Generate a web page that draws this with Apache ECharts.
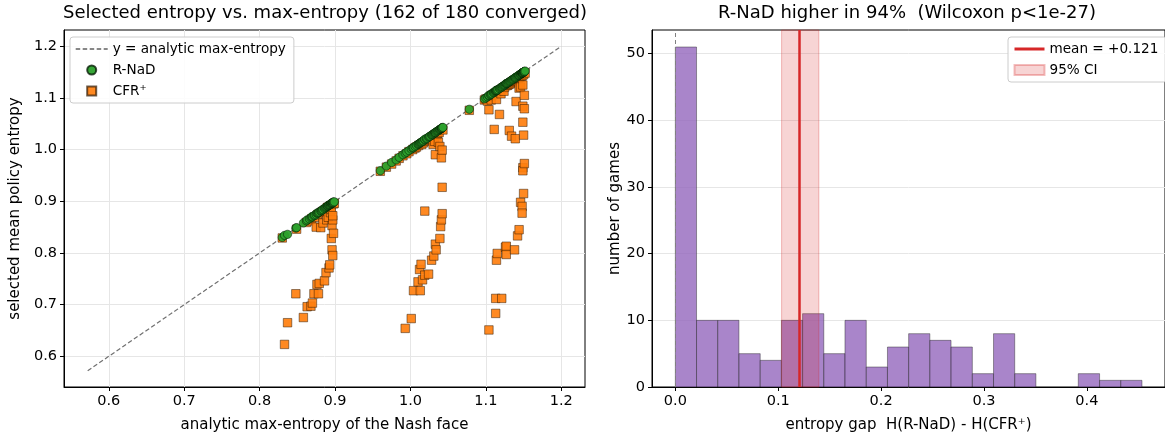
<!DOCTYPE html>
<html><head><meta charset="utf-8">
<script src="https://cdn.jsdelivr.net/npm/echarts@6/dist/echarts.min.js"></script>
<style>html,body{margin:0;padding:0;background:#fff}#c{width:1165px;height:438px}</style>
</head><body><div id="c"></div><script>
// ---------- data: left scatter (one entry per converged game) ----------
const gameEntropy = [
 0.830,0.833,0.837,0.848,0.849,0.858,0.862,0.863,0.866,0.868,0.869,0.870,0.872,0.873,0.875,0.876,0.877,0.878,0.879,0.881,
 0.882,0.883,0.884,0.886,0.887,0.888,0.889,0.890,0.890,0.891,0.892,0.892,0.893,0.894,0.894,0.895,0.895,0.896,0.896,0.897,
 0.897,0.897,0.898,0.898,0.899,
 0.960,0.968,0.975,0.981,0.985,0.990,0.993,0.995,0.998,1.001,1.003,1.004,1.006,1.008,1.010,1.011,1.012,1.013,1.014,1.015,
 1.016,1.017,1.019,1.019,1.021,1.022,1.024,1.025,1.026,1.028,1.029,1.030,1.031,1.032,1.033,1.033,1.034,1.035,1.036,1.037,
 1.038,1.039,1.039,1.040,1.041,1.041,1.042,1.042,1.042,1.043,
 1.078,
 1.098,1.100,1.102,1.104,1.104,1.106,1.107,1.108,1.110,1.111,1.112,1.113,1.113,1.114,1.114,1.115,1.116,1.118,1.119,1.120,
 1.121,1.122,1.123,1.124,1.125,1.126,1.127,1.127,1.128,1.129,1.130,1.131,1.132,1.133,1.134,1.135,1.136,1.137,1.138,1.139,
 1.139,1.140,1.141,1.142,1.143,1.144,1.144,1.145,1.146,1.146,1.147,1.148,1.148,1.148,1.149,1.149,1.149,1.149,1.149,1.150,
 1.150,1.150,1.151,1.151,1.151,1.152
];
const rnadEntropy = [
 0.830,0.834,0.836,0.848,0.849,0.858,0.862,0.864,0.866,0.868,0.870,0.870,0.872,0.873,0.874,0.877,0.877,0.878,0.879,0.881,
 0.882,0.883,0.884,0.886,0.887,0.888,0.889,0.890,0.891,0.891,0.892,0.893,0.893,0.894,0.894,0.895,0.896,0.896,0.896,0.897,
 0.897,0.898,0.898,0.898,0.899,
 0.959,0.968,0.975,0.980,0.985,0.990,0.993,0.995,0.998,1.001,1.003,1.004,1.006,1.008,1.010,1.011,1.012,1.013,1.014,1.015,
 1.016,1.017,1.019,1.020,1.021,1.022,1.024,1.025,1.026,1.028,1.029,1.030,1.031,1.032,1.033,1.033,1.034,1.035,1.036,1.037,
 1.038,1.039,1.039,1.040,1.041,1.041,1.042,1.042,1.042,1.043,
 1.078,
 1.098,1.100,1.102,1.104,1.105,1.106,1.107,1.108,1.110,1.111,1.112,1.113,1.114,1.114,1.115,1.115,1.116,1.118,1.119,1.120,
 1.121,1.122,1.123,1.124,1.125,1.126,1.127,1.128,1.128,1.129,1.130,1.131,1.132,1.133,1.134,1.135,1.136,1.137,1.138,1.139,
 1.139,1.140,1.141,1.142,1.143,1.144,1.144,1.145,1.146,1.146,1.147,1.148,1.148,1.148,1.149,1.149,1.149,1.149,1.149,1.150,
 1.150,1.150,1.151,1.151,1.151,1.152
];
const cfrEntropy = [
 0.829,0.623,0.665,0.721,0.846,0.675,0.859,0.696,0.862,0.697,0.866,0.703,0.721,0.869,0.850,0.739,0.874,0.721,0.741,0.849,
 0.878,0.880,0.858,0.746,0.884,0.762,0.864,0.887,0.888,0.869,0.771,0.889,0.777,0.878,0.891,0.828,0.884,0.806,0.853,0.795,
 0.864,0.872,0.838,0.895,0.896,
 0.958,0.966,0.972,0.978,0.983,0.988,0.654,0.992,0.996,0.673,1.000,0.727,1.003,1.005,0.744,1.008,0.768,0.727,0.778,1.010,
 0.748,1.013,0.881,0.757,1.016,1.018,0.759,1.020,1.021,0.786,1.024,1.010,0.794,1.016,0.990,0.817,0.806,1.028,1.031,1.014,
 1.033,1.006,0.828,0.851,0.984,0.864,0.999,0.927,0.876,1.038,
 1.076,
 1.096,1.098,1.094,1.077,0.651,1.103,1.096,1.105,1.107,1.039,1.109,0.712,0.683,0.786,1.097,0.799,1.112,1.068,1.115,1.108,
 0.712,1.118,1.119,1.113,1.121,0.811,0.813,0.797,1.124,1.125,1.126,1.037,1.127,1.129,1.026,1.131,1.132,1.133,0.806,1.021,
 1.135,1.093,1.137,0.833,1.138,1.119,0.845,1.140,0.898,1.121,1.142,0.890,0.877,1.143,1.125,1.084,1.053,0.965,0.959,1.028,
 0.915,1.145,1.105,0.973,1.079,1.148
];
const diagLine = [[0.572, 0.572], [1.2, 1.2]];
const leftTicks = [0.6, 0.7, 0.8, 0.9, 1.0, 1.1, 1.2];

// ---------- data: right histogram ----------
const histEdges = [0, 0.0206, 0.0412, 0.0618, 0.0825, 0.1031, 0.1237, 0.1443, 0.1649, 0.1856, 0.2062, 0.2268,
  0.2474, 0.2680, 0.2887, 0.3093, 0.3299, 0.3505, 0.3711, 0.3917, 0.4124, 0.4330, 0.4536];
const histCounts = [51, 10, 10, 5, 4, 10, 11, 5, 10, 3, 6, 8, 7, 6, 2, 8, 2, 0, 0, 2, 1, 1];
const meanGap = 0.121;
const ciLow = 0.1033, ciHigh = 0.1395;
const gapTicks = [0.0, 0.1, 0.2, 0.3, 0.4];
const countTicks = [0, 10, 20, 30, 40, 50];

// ---------- chart ----------
const FONT = 'DejaVu Sans';
const chart = echarts.init(document.getElementById('c'), null, {renderer: 'canvas'});
const rnadPts = gameEntropy.map((x, i) => [x, rnadEntropy[i]]);
const cfrPts = gameEntropy.map((x, i) => [x, cfrEntropy[i]]);
const histData = histCounts.map((c, i) => [histEdges[i], histEdges[i + 1], c]);
const meanName = 'mean = +' + meanGap.toFixed(3);

function axisCommon(ticks, fmt) {
  return {
    type: 'value',
    axisLine: {show: true, onZero: false, lineStyle: {color: '#000', width: 1}},
    axisTick: {show: true, length: 4, lineStyle: {color: '#000'}, customValues: ticks},
    axisLabel: {color: '#000', fontSize: 14.5, fontFamily: FONT, customValues: ticks, formatter: fmt, margin: 7},
    nameTextStyle: {color: '#000', fontSize: 15, fontFamily: FONT},
    nameLocation: 'middle'
  };
}
const f1 = v => Number(v).toFixed(1);
const f0 = v => String(Math.round(v));

const option = {
  animation: false,
  backgroundColor: '#fff',
  textStyle: {fontFamily: FONT},
  title: [
    {text: 'Selected entropy vs. max-entropy (162 of 180 converged)', left: 325, top: 4, padding: 0,
      textAlign: 'center', textStyle: {fontSize: 18, fontWeight: 'normal', color: '#000', fontFamily: FONT}},
    {text: 'R-NaD higher in 94%  (Wilcoxon p<1e-27)', left: 907, top: 4, padding: 0,
      textAlign: 'center', textStyle: {fontSize: 18, fontWeight: 'normal', color: '#000', fontFamily: FONT}}
  ],
  legend: [
    {orient: 'vertical', left: 70, top: 37, padding: [5, 8, 5, 5], itemGap: 7, itemWidth: 32, itemHeight: 9,
      backgroundColor: 'rgba(255,255,255,0.85)', borderColor: '#cccccc', borderWidth: 1, borderRadius: 3,
      textStyle: {fontSize: 13.6, color: '#000', fontFamily: FONT},
      data: [{name: 'y = analytic max-entropy', itemStyle: {opacity: 0}, lineStyle: {width: 1.4, color: '#606060'}},
             {name: 'R-NaD', icon: 'circle'},
             {name: 'CFR\u207A', icon: 'path://M0,0L10,0L10,10L0,10Z'}]},
    {orient: 'vertical', left: 1008, top: 37, padding: [5, 8, 5, 5], itemGap: 7, itemWidth: 30, itemHeight: 10,
      backgroundColor: 'rgba(255,255,255,0.85)', borderColor: '#cccccc', borderWidth: 1, borderRadius: 3,
      textStyle: {fontSize: 13.6, color: '#000', fontFamily: FONT},
      data: [{name: meanName, itemStyle: {opacity: 0}, lineStyle: {width: 3, color: '#d62728'}},
             {name: '95% CI', icon: 'rect'}]}
  ],
  grid: [
    {left: 64, top: 30, width: 521, height: 357, show: true, borderColor: '#000', borderWidth: 1, containLabel: false},
    {left: 652, top: 30, width: 519, height: 357, show: true, borderColor: '#000', borderWidth: 1, containLabel: false}
  ],
  xAxis: [
    Object.assign(axisCommon(leftTicks, f1), {gridIndex: 0, min: 0.5406, max: 1.2314, splitNumber: 7,
      name: 'analytic max-entropy of the Nash face', nameGap: 31,
      splitLine: {show: true, lineStyle: {color: '#e6e6e6', width: 1}}}),
    Object.assign(axisCommon(gapTicks, f1), {gridIndex: 1, min: -0.0227, max: 0.476, splitNumber: 5,
      name: 'entropy gap  H(R-NaD) - H(CFR\u207A)', nameGap: 31,
      splitLine: {show: false}})
  ],
  yAxis: [
    Object.assign(axisCommon(leftTicks, f1), {gridIndex: 0, min: 0.5406, max: 1.2314, splitNumber: 7,
      name: 'selected mean policy entropy', nameGap: 41,
      splitLine: {show: true, lineStyle: {color: '#e6e6e6', width: 1}}}),
    Object.assign(axisCommon(countTicks, f0), {gridIndex: 1, min: 0, max: 53.55, interval: 10,
      name: 'number of games', nameGap: 28,
      splitLine: {show: true, lineStyle: {color: '#e6e6e6', width: 1}}})
  ],
  series: [
    {name: 'y = analytic max-entropy', type: 'line', xAxisIndex: 0, yAxisIndex: 0, data: diagLine,
      symbol: 'none', silent: true, z: 1,
      lineStyle: {color: '#707070', width: 1.2, type: [4.5, 2.5]}, itemStyle: {color: '#707070'}},
    {name: 'CFR\u207A', type: 'scatter', xAxisIndex: 0, yAxisIndex: 0, data: cfrPts,
      symbol: 'rect', symbolSize: 8.5, z: 2,
      itemStyle: {color: '#ff7f0e', borderColor: 'rgba(40,20,0,0.75)', borderWidth: 0.7, opacity: 0.92}},
    {name: 'R-NaD', type: 'scatter', xAxisIndex: 0, yAxisIndex: 0, data: rnadPts,
      symbol: 'circle', symbolSize: 8.3, z: 3,
      itemStyle: {color: '#2ca02c', borderColor: 'rgba(0,20,0,0.8)', borderWidth: 0.7, opacity: 0.95}},
    {name: 'zeroRef', type: 'line', xAxisIndex: 1, yAxisIndex: 1, data: [], z: 1, silent: true,
      markLine: {symbol: 'none', silent: true, label: {show: false},
        lineStyle: {color: '#808080', width: 1, type: [4, 3]}, data: [{xAxis: 0}]}},
    {name: 'hist', type: 'custom', xAxisIndex: 1, yAxisIndex: 1, data: histData, z: 2,
      encode: {x: [0, 1], y: 2},
      renderItem: function (params, api) {
        const c = api.value(2);
        if (!c) return null;
        const p0 = api.coord([api.value(0), c]);
        const p1 = api.coord([api.value(1), 0]);
        return {type: 'rect', shape: {x: p0[0], y: p0[1], width: p1[0] - p0[0], height: p1[1] - p0[1]},
          style: {fill: 'rgba(148,103,189,0.8)', stroke: 'rgba(30,30,30,0.6)', lineWidth: 0.7}};
      }},
    {name: '95% CI', type: 'custom', xAxisIndex: 1, yAxisIndex: 1, data: [[ciLow, ciHigh]], z: 3,
      encode: {x: [0, 1]},
      itemStyle: {color: 'rgba(214,39,40,0.2)', borderColor: 'rgba(214,39,40,0.3)', borderWidth: 1},
      renderItem: function (params, api) {
        const cs = params.coordSys;
        const x0 = api.coord([api.value(0), 0])[0];
        const x1 = api.coord([api.value(1), 0])[0];
        return {type: 'rect', shape: {x: x0, y: cs.y, width: x1 - x0, height: cs.height},
          style: {fill: 'rgba(214,39,40,0.2)', stroke: 'rgba(214,39,40,0.3)', lineWidth: 1}};
      }},
    {name: meanName, type: 'line', xAxisIndex: 1, yAxisIndex: 1, data: [], z: 4, symbol: 'none',
      lineStyle: {color: '#d62728', width: 2.5}, itemStyle: {color: '#d62728'},
      markLine: {symbol: 'none', silent: true, label: {show: false},
        lineStyle: {color: '#d62728', width: 2.5, type: 'solid'}, data: [{xAxis: meanGap}]}}
  ]
};
chart.setOption(option);
</script></body></html>
